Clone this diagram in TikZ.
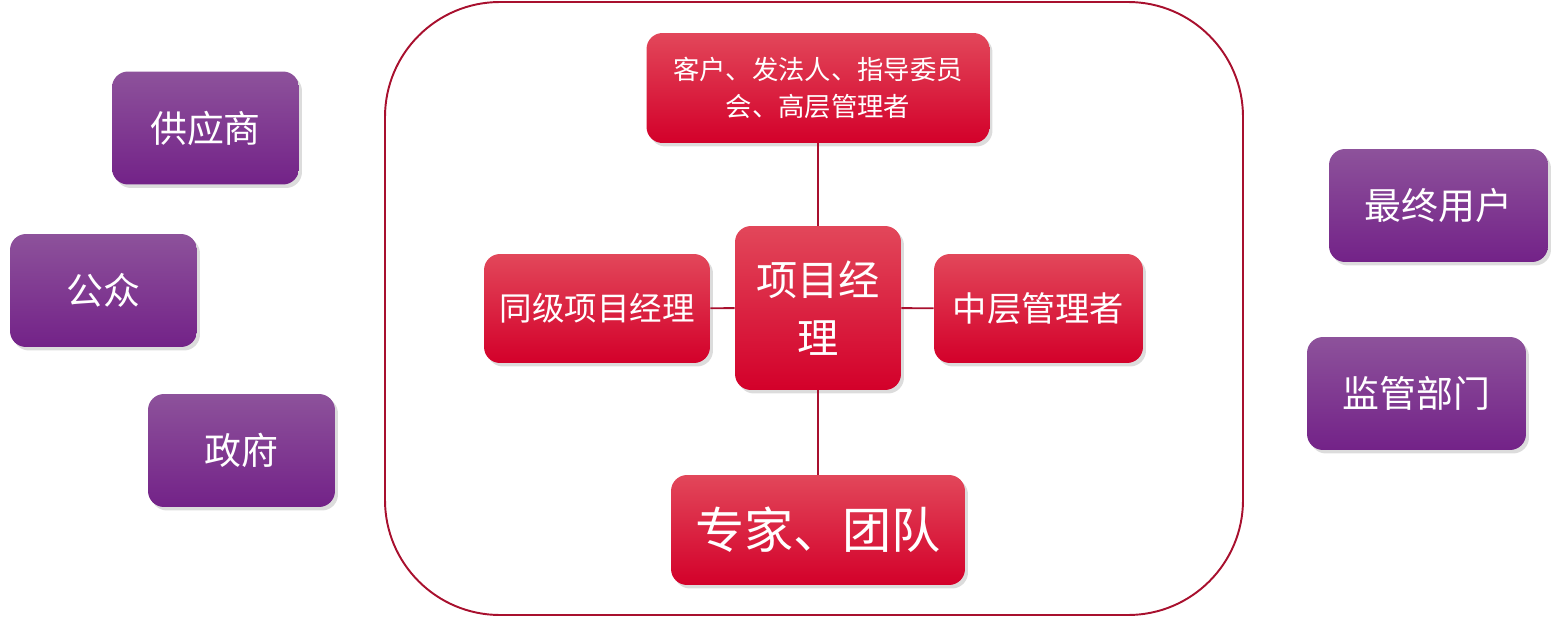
\documentclass[tikz,border=0pt]{standalone}
\usepackage{fontspec}
\setmainfont{Noto Sans CJK SC}
\usetikzlibrary{shadows}
\definecolor{redtop}{HTML}{E2475A}
\definecolor{redbot}{HTML}{D3002A}
\definecolor{purtop}{HTML}{8D529B}
\definecolor{purbot}{HTML}{732288}
\definecolor{linered}{HTML}{A8102E}

\begin{document}
\begin{tikzpicture}[x=0.02cm, y=-0.02cm,
  redbox/.style={rounded corners=0.32cm, top color=redtop, bottom color=redbot, text=white,
    align=center, inner sep=0pt, drop shadow={shadow xshift=0.06cm, shadow yshift=-0.07cm, opacity=0.28}},
  purbox/.style={rounded corners=0.32cm, top color=purtop, bottom color=purbot, text=white,
    minimum width=3.74cm, minimum height=2.26cm, inner sep=0pt, font=\fontsize{21}{25}\selectfont,
    drop shadow={shadow xshift=0.06cm, shadow yshift=-0.07cm, opacity=0.28}},
  link/.style={linered, line width=1.1pt}]
  \useasboundingbox (0,0) rectangle (1558,625);
  \draw[linered, line width=1.1pt, rounded corners=2.3cm] (385,2) rectangle (1243,615);

  \node[redbox, minimum width=3.32cm, minimum height=3.28cm, font=\fontsize{23.5}{33}\selectfont] (pm) at (818,308) {项目经\\理};
  \node[redbox, minimum width=6.86cm, minimum height=2.2cm, font=\fontsize{15}{21.5}\selectfont] (client) at (818,88) {客户、发法人、指导委员\\会、高层管理者};
  \node[redbox, minimum width=4.52cm, minimum height=2.18cm, font=\fontsize{18.5}{22}\selectfont] (peer) at (597,308.5) {同级项目经理};
  \node[redbox, minimum width=4.18cm, minimum height=2.18cm, font=\fontsize{19.5}{23}\selectfont] (mid) at (1038.5,308.5) {中层管理者};
  \node[redbox, minimum width=5.88cm, minimum height=2.2cm, font=\fontsize{28}{32}\selectfont] (team) at (818,530) {专家、团队};

  \draw[link] (client) -- (pm);
  \draw[link] (pm) -- (team);
  \draw[link] (peer) -- (pm);
  \draw[link] (pm) -- (mid);

  \node[purbox] (supplier) at (205.5,128) {供应商};
  \node[purbox] (public) at (103.5,290.5) {公众};
  \node[purbox] (gov) at (241.5,450.5) {政府};
  \node[purbox, minimum width=4.38cm] (enduser) at (1438.5,205.5) {最终用户};
  \node[purbox, minimum width=4.38cm] (regulator) at (1416.5,393.5) {监管部门};
\end{tikzpicture}
\end{document}
